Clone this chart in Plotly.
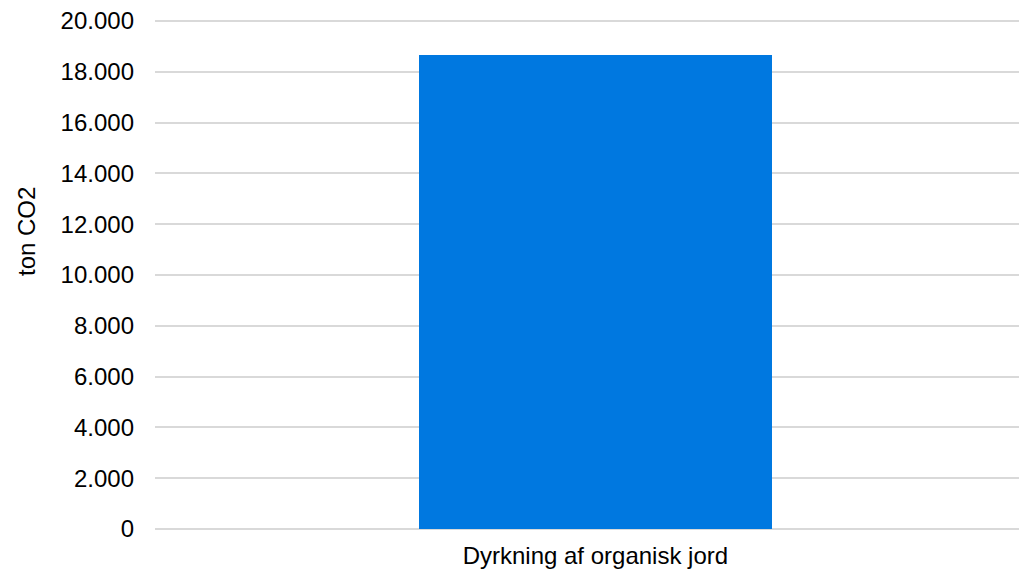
import plotly.graph_objects as go

categories = ["Dyrkning af organisk jord"]
values = [18650]
y_ticks = [0, 2000, 4000, 6000, 8000, 10000, 12000, 14000, 16000, 18000, 20000]
y_title = "ton CO2"

fig = go.Figure(
    go.Bar(
        x=categories,
        y=values,
        marker=dict(color="#0078E0", line=dict(width=0)),
        width=0.405,
    )
)

fig.update_layout(
    width=1019,
    height=563,
    margin=dict(l=147, r=0, t=8, b=37, autoexpand=False),
    plot_bgcolor="white",
    paper_bgcolor="white",
    separators=",.",
    font=dict(family="Liberation Sans, Arial, sans-serif", size=24, color="#000000"),
    showlegend=False,
    bargap=0,
)

fig.update_xaxes(
    range=[-0.505, 0.495],
    showgrid=False,
    showline=False,
    zeroline=False,
    ticks="",
    automargin=False,
    ticklabelstandoff=5,
    ticklabeloverflow="allow",
    tickfont=dict(size=24, color="#000000"),
)

fig.update_yaxes(
    range=[-200, 20200],
    tickvals=y_ticks,
    tickformat=",d",
    showgrid=True,
    gridcolor="#D9D9D9",
    gridwidth=2,
    zeroline=False,
    showline=False,
    ticks="",
    automargin=False,
    ticklabelstandoff=20,
    ticklabeloverflow="allow",
    tickfont=dict(size=24, color="#000000"),
)

fig.add_annotation(
    text=y_title,
    xref="paper",
    yref="paper",
    x=0,
    y=0.583,
    xanchor="center",
    yanchor="middle",
    xshift=-129,
    textangle=-90,
    showarrow=False,
    font=dict(size=24, color="#000000"),
)

fig.write_html("out.html")
